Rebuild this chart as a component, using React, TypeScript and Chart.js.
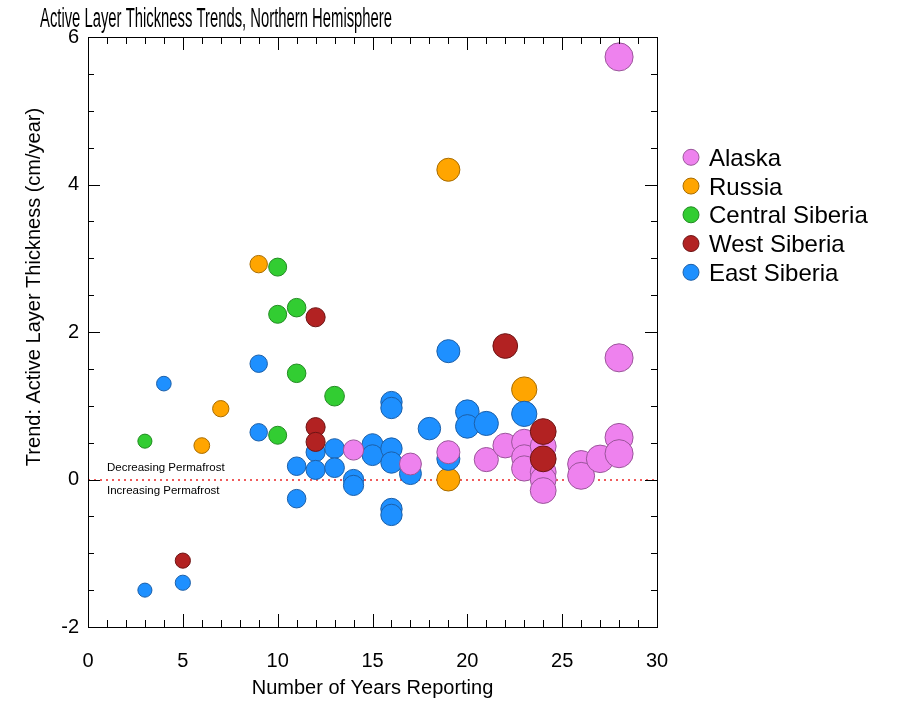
import React, { useEffect, useRef } from "react";
import { Chart, registerables } from "chart.js";

Chart.register(...registerables);

const FONT = "'Liberation Sans', Arial, Helvetica, sans-serif";

const chartTitle = "Active Layer Thickness Trends, Northern Hemisphere";
const xAxisTitle = "Number of Years Reporting";
const yAxisTitle = "Trend: Active Layer Thickness (cm/year)";
const aboveZeroNote = "Decreasing Permafrost";
const belowZeroNote = "Increasing Permafrost";

const regionNames = ["Alaska", "Russia", "Central Siberia", "West Siberia", "East Siberia"];
const regionColors = ["#EE82EE", "#FFA500", "#32CD32", "#B22222", "#1E90FF"];
const regionBorders = ["#9a559a", "#a86c00", "#228b22", "#6e1414", "#1c5fa8"];
// lower draw order = drawn on top
const regionDrawOrder = [2, 5, 4, 1, 3];

const alaskaYears = [14, 17, 19, 21, 22, 23, 23, 23, 24, 24, 24, 24, 26, 26, 27, 28, 28, 28, 28];
const alaskaTrend = [0.4, 0.21, 0.37, 0.27, 0.46, 0.51, 0.3, 0.15, 0.45, 0.1, 0.0, -0.15, 0.21, 0.05, 0.28, 0.57, 0.35, 1.65, 5.73];

const russiaYears = [6, 7, 9, 19, 19, 23];
const russiaTrend = [0.46, 0.96, 2.92, 4.2, 0.0, 1.22];

const centralYears = [3, 10, 10, 10, 11, 11, 13];
const centralTrend = [0.52, 2.88, 2.24, 0.6, 2.33, 1.44, 1.13];

const westYears = [5, 12, 12, 12, 22, 24, 24];
const westTrend = [-1.1, 2.2, 0.71, 0.51, 1.81, 0.65, 0.28];

const eastYears = [3, 4, 5, 9, 9, 11, 11, 12, 12, 13, 13, 14, 14, 15, 15, 16, 16, 16, 16, 16, 16, 17, 18, 19, 19, 20, 20, 21, 23];
const eastTrend = [-1.5, 1.3, -1.4, 1.57, 0.64, 0.18, -0.26, 0.37, 0.13, 0.42, 0.16, 0.0, -0.08, 0.48, 0.33, 1.05, 0.97, 0.42, 0.23, -0.4, -0.48, 0.08, 0.69, 1.74, 0.28, 0.92, 0.72, 0.76, 0.89];

const xTickStep = 5;
const yTickStep = 2;

export default function App() {
  const ref = useRef<HTMLCanvasElement>(null);

  useEffect(() => {
    const toPoints = (xs: number[], ys: number[]) => xs.map((x, i) => ({ x, y: ys[i] }));
    const seriesX = [alaskaYears, russiaYears, centralYears, westYears, eastYears];
    const seriesY = [alaskaTrend, russiaTrend, centralTrend, westTrend, eastTrend];

    const radius = (ctx: any) => {
      const raw = ctx.raw as { x: number } | undefined;
      return raw ? 6.2 + 0.28 * raw.x : 8;
    };

    const datasets = regionNames.map((name, i) => ({
      label: name,
      data: toPoints(seriesX[i], seriesY[i]),
      backgroundColor: regionColors[i],
      borderColor: regionBorders[i],
      borderWidth: 1,
      pointRadius: radius,
      pointHoverRadius: radius,
      order: regionDrawOrder[i],
    }));

    const decorPlugin = {
      id: "decor",
      beforeDatasetsDraw(chart: any) {
        const { ctx, chartArea, scales } = chart;
        const y0 = Math.round(scales.y.getPixelForValue(0));
        ctx.save();
        ctx.strokeStyle = "#f05a5a";
        ctx.lineWidth = 2;
        ctx.setLineDash([2, 4]);
        ctx.beginPath();
        ctx.moveTo(chartArea.left, y0);
        ctx.lineTo(chartArea.right, y0);
        ctx.stroke();
        ctx.setLineDash([]);
        ctx.fillStyle = "#000";
        ctx.font = `11.5px ${FONT}`;
        ctx.textAlign = "left";
        ctx.textBaseline = "middle";
        ctx.fillText(aboveZeroNote, chartArea.left + 19, y0 - 12);
        ctx.fillText(belowZeroNote, chartArea.left + 19, y0 + 11);
        ctx.restore();
      },
      afterDraw(chart: any) {
        const { ctx, chartArea, scales } = chart;
        const { left, right, top, bottom } = chartArea;
        ctx.save();
        ctx.strokeStyle = "#000";
        ctx.lineWidth = 1;
        ctx.strokeRect(Math.round(left) + 0.5, Math.round(top) + 0.5, Math.round(right - left), Math.round(bottom - top));
        ctx.beginPath();
        for (let v = scales.x.min; v <= scales.x.max; v += 1) {
          const px = Math.round(scales.x.getPixelForValue(v)) + 0.5;
          const len = v % xTickStep === 0 ? 13 : 7;
          ctx.moveTo(px, bottom);
          ctx.lineTo(px, bottom - len);
          ctx.moveTo(px, top);
          ctx.lineTo(px, top + len);
        }
        for (let v = scales.y.min; v <= scales.y.max + 1e-9; v += 0.5) {
          const py = Math.round(scales.y.getPixelForValue(v)) + 0.5;
          const len = Math.abs(v % yTickStep) < 1e-9 ? 12 : 6;
          ctx.moveTo(left, py);
          ctx.lineTo(left + len, py);
          ctx.moveTo(right, py);
          ctx.lineTo(right - len, py);
        }
        ctx.stroke();

        // chart title (condensed face)
        ctx.fillStyle = "#000";
        ctx.font = `27px ${FONT}`;
        ctx.textAlign = "left";
        ctx.textBaseline = "alphabetic";
        const w = ctx.measureText(chartTitle).width;
        ctx.save();
        ctx.translate(40, 27);
        ctx.scale(352 / w, 1);
        ctx.fillText(chartTitle, 0, 0);
        ctx.restore();

        // y axis title
        ctx.save();
        ctx.font = `20px ${FONT}`;
        ctx.translate(34, 287);
        ctx.rotate(-Math.PI / 2);
        ctx.textAlign = "center";
        ctx.textBaseline = "middle";
        ctx.fillText(yAxisTitle, 0, 0);
        ctx.restore();

        // legend
        const lx = 691;
        const ly0 = 157.3;
        const gap = 28.75;
        ctx.font = `24px ${FONT}`;
        ctx.textAlign = "left";
        ctx.textBaseline = "alphabetic";
        regionNames.forEach((name, i) => {
          const cy = ly0 + i * gap;
          ctx.beginPath();
          ctx.arc(lx, cy, 8, 0, Math.PI * 2);
          ctx.fillStyle = regionColors[i];
          ctx.fill();
          ctx.strokeStyle = regionBorders[i];
          ctx.lineWidth = 1;
          ctx.stroke();
          ctx.fillStyle = "#000";
          ctx.fillText(name, 709, cy + 8.6);
        });
        ctx.restore();
      },
    };

    const chart = new Chart(ref.current as HTMLCanvasElement, {
      type: "scatter",
      data: { datasets: datasets as any },
      options: {
        animation: false,
        responsive: false,
        events: [],
        layout: { padding: { left: 0, top: 37, right: 243, bottom: 0 } },
        plugins: {
          legend: { display: false },
          tooltip: { enabled: false },
          title: { display: false },
        },
        scales: {
          x: {
            type: "linear",
            min: 0,
            max: 30,
            grid: { display: false, drawTicks: false },
            border: { display: false },
            ticks: {
              stepSize: xTickStep,
              padding: 22,
              color: "#000",
              maxRotation: 0,
              font: { family: FONT, size: 20 },
            },
            title: {
              display: true,
              text: xAxisTitle,
              color: "#000",
              font: { family: FONT, size: 20 },
              padding: { top: 0, bottom: 4 },
            },
            afterFit: (s: any) => {
              s.height = 77;
            },
          },
          y: {
            type: "linear",
            min: -2,
            max: 6,
            grid: { display: false, drawTicks: false },
            border: { display: false },
            ticks: {
              stepSize: yTickStep,
              padding: 9,
              color: "#000",
              font: { family: FONT, size: 20 },
            },
            afterFit: (s: any) => {
              s.width = 88;
            },
          },
        },
      },
      plugins: [decorPlugin],
    });

    return () => chart.destroy();
  }, []);

  return (
    <div style={{ position: "fixed", left: 0, top: 0, width: 900, height: 704, background: "#fff" }}>
      <canvas ref={ref} width={900} height={704} style={{ width: 900, height: 704 }} />
    </div>
  );
}
